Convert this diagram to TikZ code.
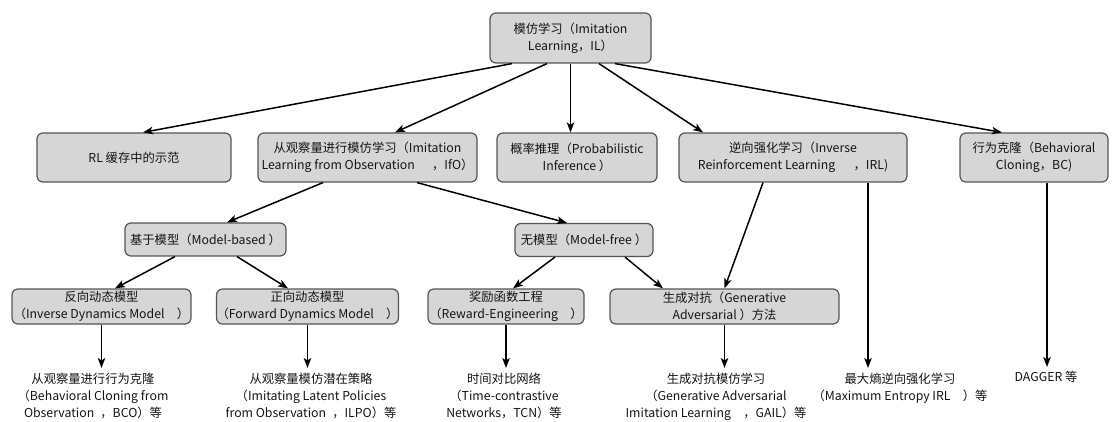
\documentclass[tikz,border=0pt]{standalone}
\usepackage{fontspec}
\setmainfont{Noto Sans CJK SC}
\usepackage{tikz}
\usetikzlibrary{arrows.meta}
\definecolor{BoxFill}{HTML}{D6D6D6}
\definecolor{BoxEdge}{HTML}{555555}
\definecolor{InkGray}{HTML}{141414}
\tikzset{
  every node/.style={font=\fontsize{12.3}{17}\selectfont,text=InkGray},
  cbox/.style={draw=BoxEdge,fill=BoxFill,line width=1.2pt,rounded corners=6pt,
    align=center,inner sep=0pt},
  leaf/.style={align=center,inner sep=0pt,anchor=north},
  arr/.style={line width=1.5pt,-{Stealth[length=10pt,width=7.5pt,inset=2.5pt]}},
}

\begin{document}
\begin{tikzpicture}[x=1pt,y=-1pt]
  \useasboundingbox (0,0) rectangle (1114,422);

  \node[cbox,minimum width=161pt,minimum height=50pt] (il) at (570.5,38)
    {模仿学习（Imitation\\Learning，IL）};

  \node[cbox,minimum width=194pt,minimum height=49pt] (rl) at (134,157.5)
    {RL 缓存中的示范};
  \node[cbox,minimum width=219pt,minimum height=49pt] (ifo) at (367.5,157.5)
    {从观察量进行模仿学习（Imitation\\Learning from Observation\hspace{1.4em}，IfO）};
  \node[cbox,minimum width=160pt,minimum height=49pt] (prob) at (577,157.5)
    {概率推理（Probabilistic\\Inference ）};
  \node[cbox,minimum width=228pt,minimum height=49pt] (irl) at (793,157.5)
    {逆向强化学习（Inverse\\Reinforcement Learning\hspace{1.5em}，IRL)};
  \node[cbox,minimum width=148pt,minimum height=49pt] (bc) at (1034,157.5)
    {行为克隆（Behavioral\\Cloning，BC)};

  \node[cbox,minimum width=161pt,minimum height=33pt] (mb) at (205.5,239.5)
    {基于模型（Model-based ）};
  \node[cbox,minimum width=138pt,minimum height=33pt] (mf) at (584,240)
    {无模型（Model-free ）};

  \node[cbox,minimum width=179pt,minimum height=35pt] (inv) at (101.5,306.5)
    {反向动态模型\\（Inverse Dynamics Model\quad ）};
  \node[cbox,minimum width=179pt,minimum height=35pt] (fwd) at (307.5,306.5)
    {正向动态模型\\（Forward Dynamics Model\quad ）};
  \node[cbox,minimum width=156pt,minimum height=35pt] (rew) at (506,306.5)
    {奖励函数工程\\（Reward-Engineering\quad ）};
  \node[cbox,minimum width=229pt,minimum height=35pt] (gen) at (724.5,306.5)
    {生成对抗（Generative\\Adversarial ）方法};

  \node[leaf] (bco) at (93,373)
    {从观察量进行行为克隆\\（Behavioral Cloning from\\Observation\enspace ，BCO）等};
  \node[leaf] (ilpo) at (311,373)
    {从观察量模仿潜在策略\\（Imitating Latent Policies\\from Observation\enspace ，ILPO）等};
  \node[leaf] (tcn) at (504,373)
    {时间对比网络\\（Time-contrastive\\Networks，TCN）等};
  \node[leaf] (gail) at (716,373)
    {生成对抗模仿学习\\（Generative Adversarial\\Imitation Learning\quad ，GAIL）等};
  \node[leaf] (maxent) at (900,373)
    {最大熵逆向强化学习\\（Maximum Entropy IRL\quad ）等};
  \node[leaf] (dagger) at (1046,371) {DAGGER 等};

  \draw[arr] ([xshift=-58.5pt]il.south) -- ([xshift=9pt]rl.north);
  \draw[arr] ([xshift=-23.5pt]il.south) -- ([xshift=27.5pt]ifo.north);
  \draw[arr] (il.south) -- (il.south |- prob.north);
  \draw[arr] ([xshift=28.5pt]il.south) -- ([xshift=-90pt]irl.north);
  \draw[arr] ([xshift=44.5pt]il.south) -- ([xshift=-32pt]bc.north);

  \draw[arr] ([xshift=-44.5pt]ifo.south) -- ([xshift=21.5pt]mb.north);
  \draw[arr] ([xshift=49.5pt]ifo.south) -- ([xshift=-17pt]mf.north);
  \draw[arr] ([xshift=-30.5pt]mb.south) -- ([xshift=13.5pt]inv.north);
  \draw[arr] ([xshift=31.5pt]mb.south) -- ([xshift=-19.5pt]fwd.north);
  \draw[arr] ([xshift=-29pt]mf.south) -- ([xshift=7pt]rew.north);
  \draw[arr] ([xshift=41pt]mf.south) -- ([xshift=-61.5pt]gen.north);
  \draw[arr] ([xshift=-30pt]irl.south) -- (gen.north);

  \coordinate (irlR) at ([xshift=75pt]irl.south);
  \coordinate (bcR) at ([xshift=13pt]bc.south);
  \draw[arr,shorten >=5pt] (inv.south) -- (inv.south |- bco.north);
  \draw[arr,shorten >=5pt] (fwd.south) -- (fwd.south |- ilpo.north);
  \draw[arr,shorten >=5pt] (rew.south) -- (rew.south |- tcn.north);
  \draw[arr,shorten >=5pt] (gen.south) -- (gen.south |- gail.north);
  \draw[arr,shorten >=5pt] (irlR) -- (irlR |- maxent.north);
  \draw[arr,shorten >=4pt] (bcR) -- (bcR |- dagger.north);
\end{tikzpicture}
\end{document}
